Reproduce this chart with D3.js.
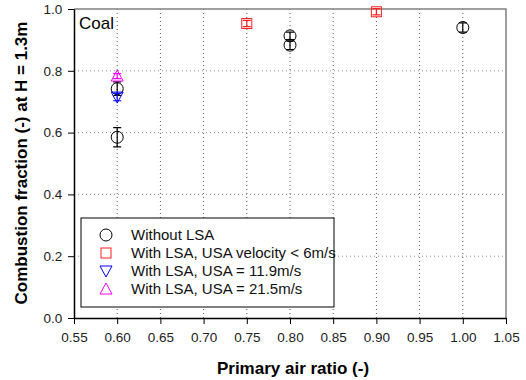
<!DOCTYPE html>
<html><head><meta charset="utf-8">
<script src="https://cdn.jsdelivr.net/npm/d3@7"></script>
<style>body{margin:0;background:#fff}svg{display:block}text{font-family:"Liberation Sans",Arial,sans-serif}</style>
</head><body><svg id="c" width="526" height="380"></svg>
<script>
const xTicks=[0.55,0.60,0.65,0.70,0.75,0.80,0.85,0.90,0.95,1.00,1.05];
const yTicks=[0.0,0.2,0.4,0.6,0.8,1.0];
const withoutX=[0.60,0.60,0.80,0.80,1.00];
const withoutY=[0.585,0.742,0.913,0.883,0.940];
const withoutE=[0.031,0.022,0.012,0.014,0.015];
const lowX=[0.75,0.90];
const lowY=[0.953,0.991];
const lowE=[0.010,0.010];
const u119X=[0.60];
const u119Y=[0.715];
const u119E=[0.012];
const u215X=[0.60];
const u215Y=[0.783];
const u215E=[0.008];
const legendLabels=["Without LSA","With LSA, USA velocity < 6m/s","With LSA, USA = 11.9m/s","With LSA, USA = 21.5m/s"];

const svg=d3.select("#c");
const L=74,R=506,T=9,B=318;
const x=d3.scaleLinear().domain([0.55,1.05]).range([L,R]);
const y=d3.scaleLinear().domain([0,1]).range([B,T]);

svg.append("g").selectAll("line").data(xTicks.slice(1,-1)).join("line")
 .attr("x1",d=>x(d)).attr("x2",d=>x(d)).attr("y1",T).attr("y2",B)
 .attr("stroke","#555").attr("stroke-width",1).attr("stroke-dasharray","1,3");
svg.append("g").selectAll("line").data(yTicks.slice(1,-1)).join("line")
 .attr("x1",L).attr("x2",R).attr("y1",d=>y(d)).attr("y2",d=>y(d))
 .attr("stroke","#888").attr("stroke-width",1).attr("stroke-dasharray","1,3");
svg.append("path").attr("d",`M${L},${T}H${R}V${B}`).attr("fill","none").attr("stroke","#808080").attr("stroke-width",1.5);

const xa=svg.append("g").attr("transform",`translate(0,${B})`)
 .call(d3.axisBottom(x).tickValues(xTicks).tickFormat(d3.format(".2f")).tickSize(6).tickSizeOuter(0));
const ya=svg.append("g").attr("transform",`translate(${L},0)`)
 .call(d3.axisLeft(y).tickValues(yTicks).tickFormat(d3.format(".1f")).tickSize(6).tickSizeOuter(0));
[xa,ya].forEach(a=>{a.select(".domain").attr("stroke","#000").attr("stroke-width",1.5);
 a.selectAll(".tick line").attr("stroke","#000");
 a.selectAll("text").attr("font-size",13.5).attr("fill","#222").style("font-family","Liberation Sans,Arial,sans-serif");});
xa.selectAll("text").attr("dy","1.1em");
ya.selectAll("text").attr("dx","-0.2em");

svg.append("text").attr("x",293).attr("y",374).attr("text-anchor","middle").attr("font-size",17).attr("font-weight","bold").text("Primary air ratio (-)");
svg.append("text").attr("transform","translate(27,163) rotate(-90)").attr("text-anchor","middle").attr("font-size",17).attr("font-weight","bold").text("Combustion fraction (-) at H = 1.3m");
svg.append("text").attr("x",79).attr("y",29).attr("font-size",17).text("Coal");

function sym(g,type,color){
 if(type==="circle") g.append("circle").attr("r",6).attr("fill","none").attr("stroke",color);
 else if(type==="square") g.append("rect").attr("x",-5).attr("y",-5).attr("width",10).attr("height",10).attr("fill","none").attr("stroke",color);
 else if(type==="down") g.append("path").attr("d","M-6,-5L6,-5L0,6Z").attr("fill","none").attr("stroke",color);
 else g.append("path").attr("d","M-6,5L6,5L0,-6Z").attr("fill","none").attr("stroke",color);
}
const series=[
 {xs:withoutX,ys:withoutY,es:withoutE,type:"circle",color:"#000"},
 {xs:lowX,ys:lowY,es:lowE,type:"square",color:"#ff2020"},
 {xs:u119X,ys:u119Y,es:u119E,type:"down",color:"#0000ff"},
 {xs:u215X,ys:u215Y,es:u215E,type:"up",color:"#ff00ff"}];
series.forEach(s=>{
 s.xs.forEach((xv,i)=>{
  const g=svg.append("g").attr("transform",`translate(${x(xv)},${y(s.ys[i])})`);
  const y0=y(s.ys[i]);
  const e1=y(s.ys[i]+s.es[i])-y0, e2=y(s.ys[i]-s.es[i])-y0;
  g.append("path").attr("d",`M0,${e1}V${e2}M-4,${e1}H4M-4,${e2}H4`).attr("stroke",s.color).attr("stroke-width",1.2).attr("fill","none");
  sym(g,s.type,s.color);
 });
});

svg.append("rect").attr("x",81).attr("y",218).attr("width",253).attr("height",89).attr("fill","#fff").attr("stroke","#000").attr("stroke-width",1);
series.forEach((s,i)=>{
 const yy=235+i*18;
 const g=svg.append("g").attr("transform",`translate(106,${yy})`);
 sym(g,s.type,s.color);
 svg.append("text").attr("x",131).attr("y",yy+5).attr("font-size",15).attr("fill","#111").text(legendLabels[i]);
});
</script></body></html>
